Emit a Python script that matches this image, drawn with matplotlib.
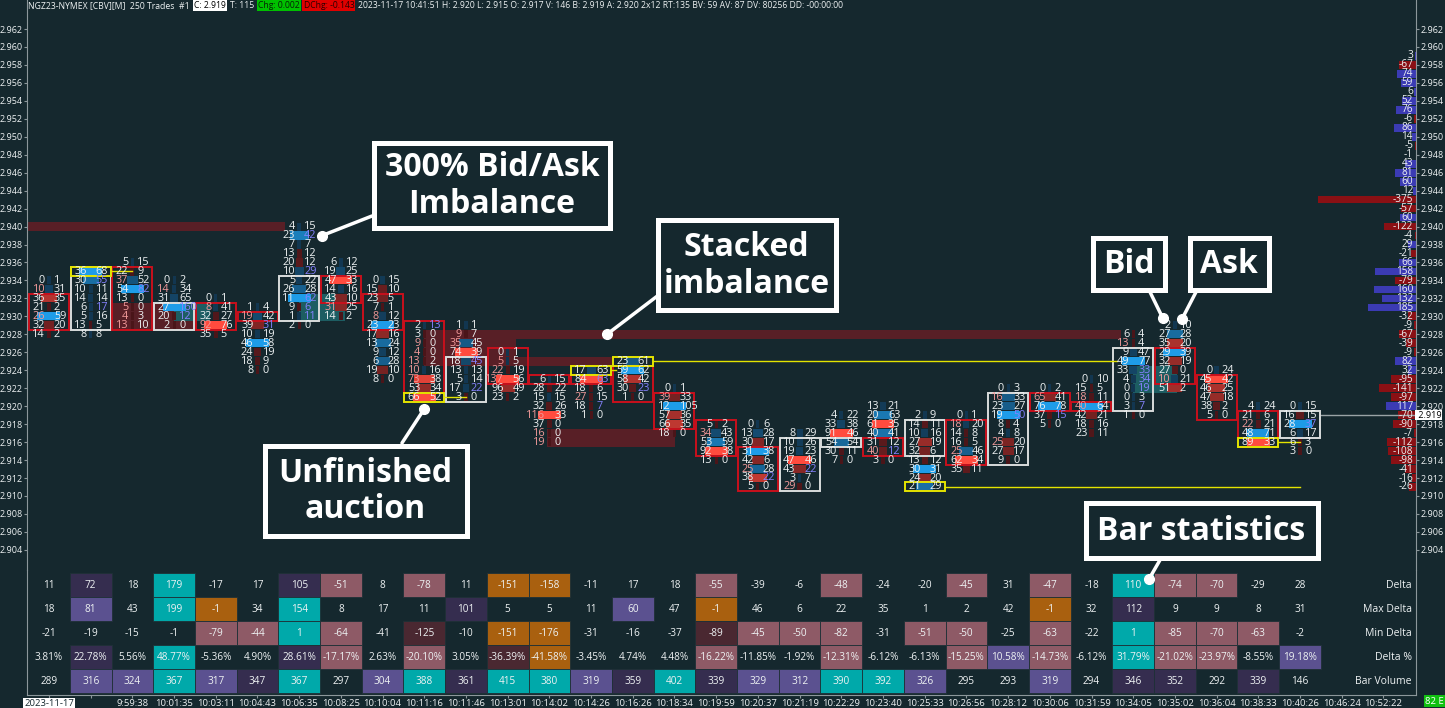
import numpy as np
import matplotlib.pyplot as plt
from matplotlib.patches import Rectangle, ConnectionPatch
from matplotlib.colors import to_rgb

plt.rcParams['font.family'] = ['Open Sans', 'DejaVu Sans']

W, H = 1445, 708
BG = '#15282e'
TXT = '#eef2f3'
TICK = 0.001

# ---------------- footprint data (bid x ask per price row, top row first)
bar_top = [2.934, 2.935, 2.936, 2.934, 2.932, 2.931, 2.940, 2.936, 2.934, 2.929,
           2.929, 2.926, 2.923, 2.924, 2.925, 2.922, 2.918, 2.918, 2.917, 2.919,
           2.920, 2.919, 2.919, 2.922, 2.922, 2.923, 2.928, 2.929, 2.924, 2.920, 2.920]
bids = [[0, 10, 36, 21, 26, 32, 14],
        [36, 30, 10, 14, 6, 5, 13, 8],
        [5, 22, 37, 54, 13, 5, 4, 13],
        [0, 14, 31, 27, 20, 2],
        [0, 8, 32, 92, 35],
        [1, 19, 39, 10, 46, 24, 18, 8],
        [4, 23, 7, 13, 20, 10, 5, 26, 11, 9, 1, 2],
        [6, 19, 47, 14, 43, 31, 14],
        [0, 15, 23, 7, 8, 23, 17, 13, 9, 6, 19, 8],
        [2, 3, 9, 4, 13, 10, 73, 53, 66],
        [1, 9, 35, 74, 18, 13, 5, 17, 3],
        [0, 5, 22, 137, 96, 23],
        [6, 28, 15, 32, 116, 37, 16, 19],
        [17, 84, 18, 27, 18, 1],
        [23, 59, 58, 30, 1],
        [0, 39, 12, 57, 66, 18],
        [5, 34, 53, 92, 13],
        [0, 13, 30, 31, 42, 25, 38, 5],
        [8, 10, 19, 47, 43, 3, 29],
        [4, 33, 91, 54, 30, 7],
        [13, 20, 61, 40, 31, 40, 3],
        [2, 14, 10, 27, 32, 13, 30, 24, 21],
        [0, 18, 14, 16, 25, 62, 35],
        [0, 16, 23, 19, 8, 4, 25, 27, 9],
        [0, 65, 76, 37, 5],
        [0, 15, 18, 40, 42, 18, 23],
        [6, 13, 9, 49, 33, 4, 0, 0, 3, 1],
        [2, 27, 35, 29, 32, 27, 10, 51],
        [0, 45, 46, 47, 38, 5],
        [4, 21, 22, 48, 89],
        [0, 16, 28, 6, 6, 3]]
asks = [[1, 31, 35, 2, 59, 20, 2],
        [68, 55, 11, 14, 17, 16, 5, 8],
        [15, 9, 52, 82, 0, 0, 3, 10],
        [2, 34, 65, 160, 12, 0],
        [1, 41, 27, 76, 5],
        [4, 42, 31, 19, 58, 19, 9, 0],
        [15, 42, 7, 12, 12, 29, 22, 28, 62, 6, 11, 0],
        [12, 25, 33, 16, 10, 25, 2],
        [15, 10, 5, 1, 12, 23, 16, 24, 12, 28, 10, 0],
        [13, 0, 0, 0, 2, 16, 38, 34, 52],
        [1, 7, 45, 39, 45, 13, 14, 22, 0],
        [1, 5, 19, 56, 49, 2],
        [15, 22, 15, 26, 33, 0, 0, 0],
        [63, 63, 6, 15, 7, 0],
        [61, 62, 42, 23, 0],
        [1, 33, 105, 36, 35, 0],
        [2, 43, 59, 38, 0],
        [6, 28, 17, 38, 6, 28, 22, 0],
        [29, 26, 23, 46, 22, 7, 0],
        [22, 38, 46, 54, 11, 0],
        [21, 63, 35, 41, 12, 12, 0],
        [9, 11, 16, 19, 6, 12, 31, 20, 29],
        [1, 20, 8, 5, 46, 34, 11],
        [3, 33, 27, 50, 4, 8, 20, 17, 0],
        [2, 41, 78, 15, 0],
        [10, 5, 11, 64, 21, 16, 11],
        [4, 4, 47, 77, 33, 34, 19, 3, 7, 0],
        [10, 28, 20, 39, 19, 0, 21, 2],
        [24, 42, 25, 18, 2, 0],
        [24, 6, 21, 71, 33],
        [15, 15, 37, 17, 3, 0]]

# candle bodies
body_hi = [2.932, 2.935, 2.935, 2.931, 2.931, 2.930, 2.934, 2.934, 2.932, 2.929,
           2.925, 2.926, 2.923, 2.923, 2.924, 2.921, 2.918, 2.915, 2.916, 2.916,
           2.916, 2.918, 2.918, 2.921, 2.921, 2.920, 2.926, 2.926, 2.923, 2.919, 2.919]
body_lo = [2.929, 2.929, 2.929, 2.929, 2.929, 2.930, 2.930, 2.932, 2.929, 2.922,
           2.921, 2.923, 2.923, 2.923, 2.921, 2.918, 2.915, 2.911, 2.911, 2.916,
           2.915, 2.915, 2.914, 2.914, 2.920, 2.920, 2.920, 2.923, 2.919, 2.917, 2.917]
bar_up = [0, 1, 0, 1, 0, 0, 1, 0, 0, 0, 1, 0, 0, 0, 0, 0, 0, 0, 1, 1,
          0, 1, 0, 1, 0, 0, 1, 0, 0, 0, 1]

# unfinished auctions: bar, price, bar where the level got revisited
ua_bar = [1, 9, 13, 14, 21, 29]
ua_price = [2.935, 2.921, 2.924, 2.925, 2.911, 2.916]
ua_until = [2.0, 10.0, 13.6, 25.6, 30.0, 30.0]

# stacked bid imbalance zones
red_x0 = [-0.53, 1.52, 9.0, 9.0, 9.0, 11.95]
red_x1 = [5.66, 3.47, 25.7, 11.2, 13.5, 15.0]
red_lo = [2.940, 2.929, 2.928, 2.926, 2.925, 2.916]
red_hi = [2.940, 2.931, 2.928, 2.927, 2.925, 2.917]
# stacked ask imbalance zones
teal_x0 = [3.0, 6.0, 26.0]
teal_x1 = [3.85, 7.1, 27.05]
teal_lo = [2.930, 2.930, 2.922]
teal_hi = [2.931, 2.932, 2.924]

# session delta profile (right edge), from 2.959 downwards
prof_top = 2.959
prof = [3, -67, 74, 59, 6, 52, 76, -6, 86, 14, -5, -1, 43, 81, 60, 12, -375, -57, 60, -122,
        -4, 29, -21, 66, 158, -79, 160, 132, 185, -32, -9, -67, -39, -9, 82, 32, -95, -141,
        -97, 117, -70, -90, -7, -112, -108, -98, -41, -16, -26]
last_price = 2.919

# bar statistics table
t_delta = [11, 72, 18, 179, -17, 17, 105, -51, 8, -78, 11, -151, -158, -11, 17, 18, -55, -39,
           -6, -48, -24, -20, -45, 31, -47, -18, 110, -74, -70, -29, 28]
t_maxd = [18, 81, 43, 199, -1, 34, 154, 8, 17, 11, 101, 5, 5, 11, 60, 47, -1, 46, 6, 22, 35,
          1, 2, 42, -1, 32, 112, 9, 9, 8, 31]
t_mind = [-21, -19, -15, -1, -79, -44, 1, -64, -41, -125, -10, -151, -176, -31, -16, -37, -89,
          -45, -50, -82, -31, -51, -50, -25, -63, -22, 1, -85, -70, -63, -2]
t_dpct = [3.81, 22.78, 5.56, 48.77, -5.36, 4.90, 28.61, -17.17, 2.63, -20.10, 3.05, -36.39,
          -41.58, -3.45, 4.74, 4.48, -16.22, -11.85, -1.92, -12.31, -6.12, -6.13, -15.25, 10.58,
          -14.73, -6.12, 31.79, -21.02, -23.97, -8.55, 19.18]
t_vol = [289, 316, 324, 367, 317, 347, 367, 297, 304, 388, 361, 415, 380, 319, 359, 402, 339,
         329, 312, 390, 392, 326, 295, 293, 319, 294, 346, 352, 292, 339, 146]
row_names = ['Delta', 'Max Delta', 'Min Delta', 'Delta %', 'Bar Volume']

times = ['2023-11-17', '', '9:59:38', '10:01:35', '10:03:11', '10:04:43', '10:06:35',
         '10:08:25', '10:10:04', '10:11:16', '10:11:46', '10:13:01', '10:14:02', '10:14:26',
         '10:16:26', '10:18:34', '10:19:59', '10:20:37', '10:21:19', '10:22:29', '10:23:40',
         '10:25:33', '10:26:56', '10:28:12', '10:30:06', '10:31:59', '10:34:05', '10:35:02',
         '10:36:04', '10:38:33', '10:40:26', '10:46:24', '10:52:22']

# cell shading of the statistics table (style only)
cell_style = ["ndntnndmnmnoonnnmnnmnnmnmntmmnn",
              "nlntontnnndnnnlnonnnnnnnondnnnn",
              "nnnnmmtmnbnoonnnbmmmnmmnmntmmmn",
              "ndntnndmnmnbonnnmnnmnnmlmntmmnl",
              "nlltldtnltdttldtdllttlnnlnddndn"]
cell_col = {'t': '#00a9aa', 'm': '#8e5a66', 'o': '#a9600f', 'l': '#5b5190',
            'd': '#352d4f', 'b': '#4a2831'}


def fx(px):
    return px / W


def fy(py):
    return 1 - py / H


def mix(c1, c2, t):
    a, b = np.array(to_rgb(c1)), np.array(to_rgb(c2))
    return tuple(a + (b - a) * t)


fig = plt.figure(figsize=(W / 100, H / 100), dpi=100, facecolor=BG)

PX = 41.7                       # pixels per bar
x_lo, x_hi = (27 - 49) / PX, (1416 - 49) / PX
p_top = 2.962 + 29 / 8980
p_bot = 2.962 - (570 - 29) / 8980
hw = 20 / PX

ax = fig.add_axes([fx(27), fy(570), 1389 / W, 570 / H])
ax.set_facecolor(BG)
ax.set_xlim(x_lo, x_hi)
ax.set_ylim(p_bot, p_top)
for s in ['top', 'bottom']:
    ax.spines[s].set_visible(False)
for s in ['left', 'right']:
    ax.spines[s].set_color('#8c979b')
ax.set_xticks([])
yt = np.round(np.arange(2.904, 2.9625, 0.002), 3)
ax.set_yticks(yt)
ax.set_yticklabels([f'{v:.3f}' for v in yt])
ax.yaxis.set_ticks_position('both')
ax.tick_params(axis='y', labelleft=True, labelright=True, labelsize=6.5, colors='#8c979b',
               labelcolor=TXT, length=2, pad=1)

# imbalance zones
ax.barh([(a + b) / 2 for a, b in zip(red_lo, red_hi)],
        [b - a for a, b in zip(red_x0, red_x1)], left=red_x0,
        height=[b - a + TICK for a, b in zip(red_lo, red_hi)], color='#581f26', zorder=1)
ax.barh([(a + b) / 2 for a, b in zip(teal_lo, teal_hi)],
        [b - a for a, b in zip(teal_x0, teal_x1)], left=teal_x0,
        height=[b - a + TICK for a, b in zip(teal_lo, teal_hi)], color='#1d5d62', zorder=1)

# footprint cells
for i in range(len(bar_top)):
    b = np.array(bids[i])
    a = np.array(asks[i])
    n = len(b)
    prices = bar_top[i] - TICK * np.arange(n)
    tot = b + a
    r = tot / tot.max()
    widths = (3 + 20 * r ** 2) / PX
    cols = [mix('#4a1519', '#ff4b3e', t ** 3) if bb > aa else mix('#123650', '#1e9ce8', t ** 3)
            for bb, aa, t in zip(b, a, r)]
    ax.bar(np.full(n, i), 0.9 * TICK, width=widths, bottom=prices - 0.45 * TICK,
           color=cols, zorder=2)
    for j in range(n):
        bid_imb = j > 0 and b[j] > 0 and b[j] >= 3 * a[j - 1]
        ask_imb = j < n - 1 and a[j] > 0 and a[j] >= 3 * b[j + 1]
        ax.text(i - 4 / PX, prices[j], str(b[j]), ha='right', va='center', fontsize=7.8,
                color='#f29a9a' if bid_imb else TXT, zorder=5)
        ax.text(i + 5 / PX, prices[j], str(a[j]), ha='left', va='center', fontsize=7.8,
                color='#8582ff' if ask_imb else TXT, zorder=5)
    ax.add_patch(Rectangle((i - hw, body_lo[i] - TICK / 2), 2 * hw,
                           body_hi[i] - body_lo[i] + TICK, fill=False,
                           ec='#d9dcdc' if bar_up[i] else '#c8101c', lw=1.4, zorder=4))

# unfinished auctions
for bi, pr, until in zip(ua_bar, ua_price, ua_until):
    ax.add_patch(Rectangle((bi - hw, pr - TICK / 2), 2 * hw, TICK, fill=False,
                           ec='#e4e400', lw=1.4, zorder=4.5))
    ax.plot([bi + hw, until], [pr, pr], color='#e4e400', lw=1, zorder=4.5)

# session delta profile
pp = prof_top - TICK * np.arange(len(prof))
k = 0.26 / PX
ax.barh(pp, [-abs(v) * k for v in prof], left=x_hi, height=0.86 * TICK,
        color=['#3b3bb4' if v > 0 else '#8a1014' for v in prof], zorder=2)
for p, v in zip(pp, prof):
    ax.text(x_hi - 3 / PX, p, str(v), ha='right', va='center', fontsize=7.2,
            color=TXT, zorder=5)

# last price
ax.plot([len(bar_top) - 1 + hw, x_hi], [last_price, last_price], color='#9aa3a6', lw=1, zorder=3)
ax.text(1.0, last_price, f' {last_price:.3f}', transform=ax.get_yaxis_transform(), ha='left',
        va='center', fontsize=6.5, color='black', zorder=6,
        bbox=dict(fc='white', ec='none', pad=0.6), clip_on=False)

# ---------------- statistics table
axt = fig.add_axes([fx(27), fy(695), 1389 / W, 125 / H])
axt.set_facecolor('none')
axt.set_xlim(x_lo, x_hi)
axt.set_ylim(5 + 2 / 24, -3 / 24)
axt.spines['top'].set_visible(False)
for s in ['left', 'right', 'bottom']:
    axt.spines[s].set_color('#8c979b')
axt.set_yticks([])
rows = [t_delta, t_maxd, t_mind, [f'{v:.2f}%' for v in t_dpct], t_vol]
for r, (vals, style) in enumerate(zip(rows, cell_style)):
    for c, v in enumerate(vals):
        if style[c] != 'n':
            axt.bar(c, 1, bottom=r, width=1, color=cell_col[style[c]], ec='#1e3036', lw=0.6)
        axt.text(c, r + 0.5, str(v), ha='center', va='center', fontsize=7.2, color=TXT)
    axt.text(x_hi - 4 / PX, r + 0.5, row_names[r], ha='right', va='center', fontsize=7.5,
             color=TXT)
axt.set_xticks(range(len(times)))
axt.set_xticklabels(times)
axt.tick_params(axis='x', length=2.5, colors='#8c979b', labelcolor=TXT, labelsize=6.8, pad=0.5)
dl = axt.get_xticklabels()[0]
dl.set_color('#15282e')
dl.set_bbox(dict(fc='white', ec='none', pad=0.8))

# ---------------- header line
header = [('NGZ23-NYMEX [CBV][M]  250 Trades  #1', TXT, None),
          ('C: 2.919', '#000000', 'white'),
          ('T: 115', TXT, None),
          ('Chg: 0.002', '#062006', '#00c000'),
          ('DChg: -0.143', '#2a0000', '#e00000'),
          ('2023-11-17 10:41:51 H: 2.920 L: 2.915 O: 2.917 V: 146 B: 2.919 A: 2.920 2x12 '
           'RT:135 BV: 59 AV: 87 DV: 80256 DD: -00:00:00', TXT, None)]
rend = fig.canvas.get_renderer()
xpos = 28
for s, fg, bgc in header:
    t = fig.text(fx(xpos), fy(5.5), s, ha='left', va='center', fontsize=6.2, color=fg)
    if bgc:
        t.set_bbox(dict(fc=bgc, ec='none', pad=0.8))
    xpos = t.get_window_extent(rend).x1 + 4

fig.text(fx(1425), fy(701), '82 E', ha='left', va='center', fontsize=6.8, color='white',
         bbox=dict(fc='#10c010', ec='none', pad=1))

# ---------------- callouts
callouts = [("300% Bid/Ask\nImbalance", (372, 140, 612, 230), (372, 216), ax, (6.55, 2.939)),
            ("Stacked\nimbalance", (655, 218, 838, 312), (660, 294), ax, (13.38, 2.928)),
            ("Unfinished\nauction", (262, 443, 469, 538), (402, 443), ax, (9.0, 2.9197)),
            ("Bid", (1090, 235, 1167, 292), (1150, 292), ax, (26.71, 2.9298)),
            ("Ask", (1187, 235, 1271, 292), (1196, 292), ax, (27.17, 2.9297)),
            ("Bar statistics", (1083, 500, 1320, 560), (1160, 560), axt, (26.38, 0.25))]
for label, (x0, y0, x1, y1), (lx, ly), tax, target in callouts:
    fig.add_artist(Rectangle((fx(x0 + 2.5), fy(y1 - 2.5)), (x1 - x0 - 5) / W, (y1 - y0 - 5) / H,
                             transform=fig.transFigure, fc=BG, ec='white', lw=3.6, zorder=10))
    fig.text(fx((x0 + x1) / 2), fy((y0 + y1) / 2 + 1), label, ha='center', va='center',
             fontsize=23, fontweight='bold', color='white', linespacing=1.15, zorder=11)
    con = ConnectionPatch(xyA=(fx(lx), fy(ly)), coordsA='figure fraction', xyB=target,
                          coordsB=tax.transData, color='white', lw=2.5, zorder=9)
    fig.add_artist(con)
    tax.plot(*target, 'o', ms=7, color='white', zorder=9, clip_on=False)

fig.savefig('out.png', dpi=100, facecolor=BG)
